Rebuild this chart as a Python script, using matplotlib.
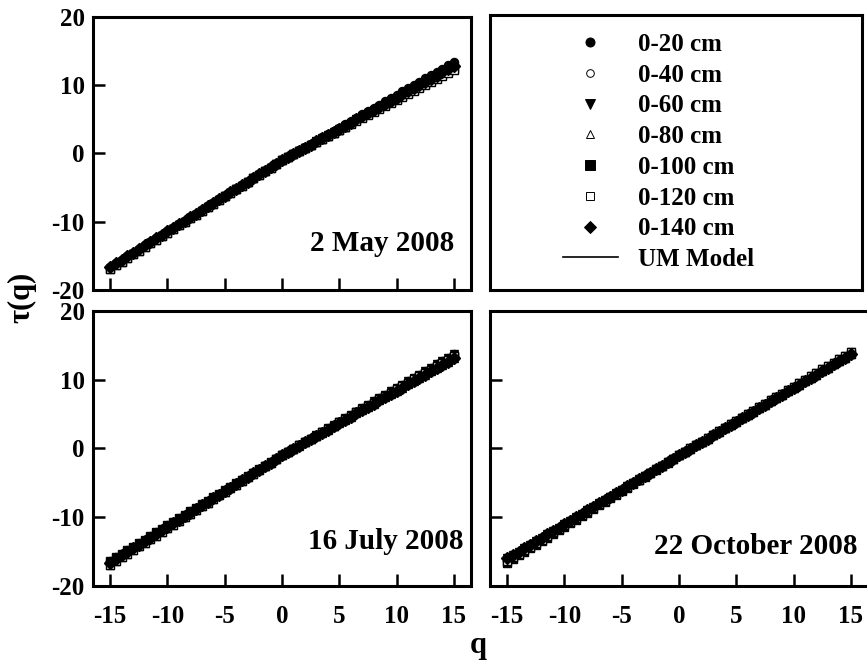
import matplotlib
matplotlib.use("Agg")
import matplotlib.pyplot as plt
from matplotlib.lines import Line2D

plt.rcParams['font.family'] = ['Liberation Serif', 'DejaVu Serif']
plt.rcParams['font.weight'] = 'bold'
plt.rcParams['axes.unicode_minus'] = False

# --- moment orders ---
q = [-15, -14.5, -14, -13.5, -13, -12.5, -12, -11.5, -11, -10.5,
     -10, -9.5, -9, -8.5, -8, -7.5, -7, -6.5, -6, -5.5,
     -5, -4.5, -4, -3.5, -3, -2.5, -2, -1.5, -1, -0.5,
     0, 0.5, 1, 1.5, 2, 2.5, 3, 3.5, 4, 4.5,
     5, 5.5, 6, 6.5, 7, 7.5, 8, 8.5, 9, 9.5,
     10, 10.5, 11, 11.5, 12, 12.5, 13, 13.5, 14, 14.5, 15]

# --- tau(q), 2 May 2008 ---
may_20 = [-16.60, -16.08, -15.56, -15.04, -14.52, -14.00, -13.48, -12.96, -12.44, -11.92, -11.40, -10.88, -10.36, -9.84, -9.32, -8.80, -8.28, -7.76, -7.24, -6.72, -6.20, -5.68, -5.16, -4.64, -4.12, -3.60, -3.08, -2.56, -2.04, -1.52,
          -1.00, -0.52, -0.04, 0.44, 0.92, 1.40, 1.88, 2.36, 2.84, 3.32, 3.80, 4.28, 4.76, 5.24, 5.72, 6.20, 6.68, 7.16, 7.64, 8.12, 8.60, 9.08, 9.56, 10.04, 10.52, 11.00, 11.48, 11.96, 12.44, 12.92, 13.40]
may_40 = [-16.60, -16.08, -15.56, -15.04, -14.52, -14.00, -13.48, -12.96, -12.44, -11.92, -11.40, -10.88, -10.36, -9.84, -9.32, -8.80, -8.28, -7.76, -7.24, -6.72, -6.20, -5.68, -5.16, -4.64, -4.12, -3.60, -3.08, -2.56, -2.04, -1.52,
          -1.00, -0.53, -0.06, 0.41, 0.88, 1.35, 1.82, 2.29, 2.76, 3.23, 3.70, 4.17, 4.64, 5.11, 5.58, 6.05, 6.52, 6.99, 7.46, 7.93, 8.40, 8.87, 9.34, 9.81, 10.28, 10.75, 11.22, 11.69, 12.16, 12.63, 13.10]
may_60 = [-16.90, -16.37, -15.84, -15.31, -14.78, -14.25, -13.72, -13.19, -12.66, -12.13, -11.60, -11.07, -10.54, -10.01, -9.48, -8.95, -8.42, -7.89, -7.36, -6.83, -6.30, -5.77, -5.24, -4.71, -4.18, -3.65, -3.12, -2.59, -2.06, -1.53,
          -1.00, -0.54, -0.08, 0.38, 0.84, 1.30, 1.76, 2.22, 2.68, 3.14, 3.60, 4.06, 4.52, 4.98, 5.44, 5.90, 6.36, 6.82, 7.28, 7.74, 8.20, 8.66, 9.12, 9.58, 10.04, 10.50, 10.96, 11.42, 11.88, 12.34, 12.80]
may_80 = [-16.60, -16.08, -15.56, -15.04, -14.52, -14.00, -13.48, -12.96, -12.44, -11.92, -11.40, -10.88, -10.36, -9.84, -9.32, -8.80, -8.28, -7.76, -7.24, -6.72, -6.20, -5.68, -5.16, -4.64, -4.12, -3.60, -3.08, -2.56, -2.04, -1.52,
          -1.00, -0.55, -0.10, 0.35, 0.80, 1.25, 1.70, 2.15, 2.60, 3.05, 3.50, 3.95, 4.40, 4.85, 5.30, 5.75, 6.20, 6.65, 7.10, 7.55, 8.00, 8.45, 8.90, 9.35, 9.80, 10.25, 10.70, 11.15, 11.60, 12.05, 12.50]
may_100 = [-16.90, -16.37, -15.84, -15.31, -14.78, -14.25, -13.72, -13.19, -12.66, -12.13, -11.60, -11.07, -10.54, -10.01, -9.48, -8.95, -8.42, -7.89, -7.36, -6.83, -6.30, -5.77, -5.24, -4.71, -4.18, -3.65, -3.12, -2.59, -2.06, -1.53,
           -1.00, -0.55, -0.10, 0.35, 0.80, 1.25, 1.70, 2.15, 2.60, 3.05, 3.50, 3.95, 4.40, 4.85, 5.30, 5.75, 6.20, 6.65, 7.10, 7.55, 8.00, 8.45, 8.90, 9.35, 9.80, 10.25, 10.70, 11.15, 11.60, 12.05, 12.50]
may_120 = [-16.90, -16.37, -15.84, -15.31, -14.78, -14.25, -13.72, -13.19, -12.66, -12.13, -11.60, -11.07, -10.54, -10.01, -9.48, -8.95, -8.42, -7.89, -7.36, -6.83, -6.30, -5.77, -5.24, -4.71, -4.18, -3.65, -3.12, -2.59, -2.06, -1.53,
           -1.00, -0.56, -0.12, 0.32, 0.76, 1.20, 1.64, 2.08, 2.52, 2.96, 3.40, 3.84, 4.28, 4.72, 5.16, 5.60, 6.04, 6.48, 6.92, 7.36, 7.80, 8.24, 8.68, 9.12, 9.56, 10.00, 10.44, 10.88, 11.32, 11.76, 12.20]
may_140 = [-16.60, -16.08, -15.56, -15.04, -14.52, -14.00, -13.48, -12.96, -12.44, -11.92, -11.40, -10.88, -10.36, -9.84, -9.32, -8.80, -8.28, -7.76, -7.24, -6.72, -6.20, -5.68, -5.16, -4.64, -4.12, -3.60, -3.08, -2.56, -2.04, -1.52,
           -1.00, -0.54, -0.08, 0.38, 0.84, 1.30, 1.76, 2.22, 2.68, 3.14, 3.60, 4.06, 4.52, 4.98, 5.44, 5.90, 6.36, 6.82, 7.28, 7.74, 8.20, 8.66, 9.12, 9.58, 10.04, 10.50, 10.96, 11.42, 11.88, 12.34, 12.80]

# --- tau(q), 16 July 2008 ---
jul_20 = [-16.30, -15.79, -15.28, -14.77, -14.26, -13.75, -13.24, -12.73, -12.22, -11.71, -11.20, -10.69, -10.18, -9.67, -9.16, -8.65, -8.14, -7.63, -7.12, -6.61, -6.10, -5.59, -5.08, -4.57, -4.06, -3.55, -3.04, -2.53, -2.02, -1.51,
          -1.00, -0.51, -0.02, 0.47, 0.96, 1.45, 1.94, 2.43, 2.92, 3.41, 3.90, 4.39, 4.88, 5.37, 5.86, 6.35, 6.84, 7.33, 7.82, 8.31, 8.80, 9.29, 9.78, 10.27, 10.76, 11.25, 11.74, 12.23, 12.72, 13.21, 13.70]
jul_40 = [-16.60, -16.08, -15.56, -15.04, -14.52, -14.00, -13.48, -12.96, -12.44, -11.92, -11.40, -10.88, -10.36, -9.84, -9.32, -8.80, -8.28, -7.76, -7.24, -6.72, -6.20, -5.68, -5.16, -4.64, -4.12, -3.60, -3.08, -2.56, -2.04, -1.52,
          -1.00, -0.52, -0.04, 0.44, 0.92, 1.40, 1.88, 2.36, 2.84, 3.32, 3.80, 4.28, 4.76, 5.24, 5.72, 6.20, 6.68, 7.16, 7.64, 8.12, 8.60, 9.08, 9.56, 10.04, 10.52, 11.00, 11.48, 11.96, 12.44, 12.92, 13.40]
jul_60 = [-16.60, -16.08, -15.56, -15.04, -14.52, -14.00, -13.48, -12.96, -12.44, -11.92, -11.40, -10.88, -10.36, -9.84, -9.32, -8.80, -8.28, -7.76, -7.24, -6.72, -6.20, -5.68, -5.16, -4.64, -4.12, -3.60, -3.08, -2.56, -2.04, -1.52,
          -1.00, -0.51, -0.02, 0.47, 0.96, 1.45, 1.94, 2.43, 2.92, 3.41, 3.90, 4.39, 4.88, 5.37, 5.86, 6.35, 6.84, 7.33, 7.82, 8.31, 8.80, 9.29, 9.78, 10.27, 10.76, 11.25, 11.74, 12.23, 12.72, 13.21, 13.70]
jul_80 = [-16.90, -16.37, -15.84, -15.31, -14.78, -14.25, -13.72, -13.19, -12.66, -12.13, -11.60, -11.07, -10.54, -10.01, -9.48, -8.95, -8.42, -7.89, -7.36, -6.83, -6.30, -5.77, -5.24, -4.71, -4.18, -3.65, -3.12, -2.59, -2.06, -1.53,
          -1.00, -0.53, -0.06, 0.41, 0.88, 1.35, 1.82, 2.29, 2.76, 3.23, 3.70, 4.17, 4.64, 5.11, 5.58, 6.05, 6.52, 6.99, 7.46, 7.93, 8.40, 8.87, 9.34, 9.81, 10.28, 10.75, 11.22, 11.69, 12.16, 12.63, 13.10]
jul_100 = [-16.30, -15.79, -15.28, -14.77, -14.26, -13.75, -13.24, -12.73, -12.22, -11.71, -11.20, -10.69, -10.18, -9.67, -9.16, -8.65, -8.14, -7.63, -7.12, -6.61, -6.10, -5.59, -5.08, -4.57, -4.06, -3.55, -3.04, -2.53, -2.02, -1.51,
           -1.00, -0.52, -0.04, 0.44, 0.92, 1.40, 1.88, 2.36, 2.84, 3.32, 3.80, 4.28, 4.76, 5.24, 5.72, 6.20, 6.68, 7.16, 7.64, 8.12, 8.60, 9.08, 9.56, 10.04, 10.52, 11.00, 11.48, 11.96, 12.44, 12.92, 13.40]
jul_120 = [-16.90, -16.37, -15.84, -15.31, -14.78, -14.25, -13.72, -13.19, -12.66, -12.13, -11.60, -11.07, -10.54, -10.01, -9.48, -8.95, -8.42, -7.89, -7.36, -6.83, -6.30, -5.77, -5.24, -4.71, -4.18, -3.65, -3.12, -2.59, -2.06, -1.53,
           -1.00, -0.52, -0.04, 0.44, 0.92, 1.40, 1.88, 2.36, 2.84, 3.32, 3.80, 4.28, 4.76, 5.24, 5.72, 6.20, 6.68, 7.16, 7.64, 8.12, 8.60, 9.08, 9.56, 10.04, 10.52, 11.00, 11.48, 11.96, 12.44, 12.92, 13.40]
jul_140 = [-16.60, -16.08, -15.56, -15.04, -14.52, -14.00, -13.48, -12.96, -12.44, -11.92, -11.40, -10.88, -10.36, -9.84, -9.32, -8.80, -8.28, -7.76, -7.24, -6.72, -6.20, -5.68, -5.16, -4.64, -4.12, -3.60, -3.08, -2.56, -2.04, -1.52,
           -1.00, -0.53, -0.06, 0.41, 0.88, 1.35, 1.82, 2.29, 2.76, 3.23, 3.70, 4.17, 4.64, 5.11, 5.58, 6.05, 6.52, 6.99, 7.46, 7.93, 8.40, 8.87, 9.34, 9.81, 10.28, 10.75, 11.22, 11.69, 12.16, 12.63, 13.10]

# --- tau(q), 22 October 2008 ---
oct_20 = [-16.00, -15.50, -15.00, -14.50, -14.00, -13.50, -13.00, -12.50, -12.00, -11.50, -11.00, -10.50, -10.00, -9.50, -9.00, -8.50, -8.00, -7.50, -7.00, -6.50, -6.00, -5.50, -5.00, -4.50, -4.00, -3.50, -3.00, -2.50, -2.00, -1.50,
          -1.00, -0.51, -0.02, 0.47, 0.96, 1.45, 1.94, 2.43, 2.92, 3.41, 3.90, 4.39, 4.88, 5.37, 5.86, 6.35, 6.84, 7.33, 7.82, 8.31, 8.80, 9.29, 9.78, 10.27, 10.76, 11.25, 11.74, 12.23, 12.72, 13.21, 13.70]
oct_40 = [-16.30, -15.79, -15.28, -14.77, -14.26, -13.75, -13.24, -12.73, -12.22, -11.71, -11.20, -10.69, -10.18, -9.67, -9.16, -8.65, -8.14, -7.63, -7.12, -6.61, -6.10, -5.59, -5.08, -4.57, -4.06, -3.55, -3.04, -2.53, -2.02, -1.51,
          -1.00, -0.51, -0.02, 0.47, 0.96, 1.45, 1.94, 2.43, 2.92, 3.41, 3.90, 4.39, 4.88, 5.37, 5.86, 6.35, 6.84, 7.33, 7.82, 8.31, 8.80, 9.29, 9.78, 10.27, 10.76, 11.25, 11.74, 12.23, 12.72, 13.21, 13.70]
oct_60 = [-16.00, -15.50, -15.00, -14.50, -14.00, -13.50, -13.00, -12.50, -12.00, -11.50, -11.00, -10.50, -10.00, -9.50, -9.00, -8.50, -8.00, -7.50, -7.00, -6.50, -6.00, -5.50, -5.00, -4.50, -4.00, -3.50, -3.00, -2.50, -2.00, -1.50,
          -1.00, -0.50, 0.00, 0.50, 1.00, 1.50, 2.00, 2.50, 3.00, 3.50, 4.00, 4.50, 5.00, 5.50, 6.00, 6.50, 7.00, 7.50, 8.00, 8.50, 9.00, 9.50, 10.00, 10.50, 11.00, 11.50, 12.00, 12.50, 13.00, 13.50, 14.00]
oct_80 = [-16.30, -15.79, -15.28, -14.77, -14.26, -13.75, -13.24, -12.73, -12.22, -11.71, -11.20, -10.69, -10.18, -9.67, -9.16, -8.65, -8.14, -7.63, -7.12, -6.61, -6.10, -5.59, -5.08, -4.57, -4.06, -3.55, -3.04, -2.53, -2.02, -1.51,
          -1.00, -0.51, -0.02, 0.47, 0.96, 1.45, 1.94, 2.43, 2.92, 3.41, 3.90, 4.39, 4.88, 5.37, 5.86, 6.35, 6.84, 7.33, 7.82, 8.31, 8.80, 9.29, 9.78, 10.27, 10.76, 11.25, 11.74, 12.23, 12.72, 13.21, 13.70]
oct_100 = [-16.60, -16.08, -15.56, -15.04, -14.52, -14.00, -13.48, -12.96, -12.44, -11.92, -11.40, -10.88, -10.36, -9.84, -9.32, -8.80, -8.28, -7.76, -7.24, -6.72, -6.20, -5.68, -5.16, -4.64, -4.12, -3.60, -3.08, -2.56, -2.04, -1.52,
           -1.00, -0.51, -0.02, 0.47, 0.96, 1.45, 1.94, 2.43, 2.92, 3.41, 3.90, 4.39, 4.88, 5.37, 5.86, 6.35, 6.84, 7.33, 7.82, 8.31, 8.80, 9.29, 9.78, 10.27, 10.76, 11.25, 11.74, 12.23, 12.72, 13.21, 13.70]
oct_120 = [-16.30, -15.79, -15.28, -14.77, -14.26, -13.75, -13.24, -12.73, -12.22, -11.71, -11.20, -10.69, -10.18, -9.67, -9.16, -8.65, -8.14, -7.63, -7.12, -6.61, -6.10, -5.59, -5.08, -4.57, -4.06, -3.55, -3.04, -2.53, -2.02, -1.51,
           -1.00, -0.50, 0.00, 0.50, 1.00, 1.50, 2.00, 2.50, 3.00, 3.50, 4.00, 4.50, 5.00, 5.50, 6.00, 6.50, 7.00, 7.50, 8.00, 8.50, 9.00, 9.50, 10.00, 10.50, 11.00, 11.50, 12.00, 12.50, 13.00, 13.50, 14.00]
oct_140 = [-16.00, -15.50, -15.00, -14.50, -14.00, -13.50, -13.00, -12.50, -12.00, -11.50, -11.00, -10.50, -10.00, -9.50, -9.00, -8.50, -8.00, -7.50, -7.00, -6.50, -6.00, -5.50, -5.00, -4.50, -4.00, -3.50, -3.00, -2.50, -2.00, -1.50,
           -1.00, -0.51, -0.02, 0.47, 0.96, 1.45, 1.94, 2.43, 2.92, 3.41, 3.90, 4.39, 4.88, 5.37, 5.86, 6.35, 6.84, 7.33, 7.82, 8.31, 8.80, 9.29, 9.78, 10.27, 10.76, 11.25, 11.74, 12.23, 12.72, 13.21, 13.70]

# --- UM model fits ---
q_model = [-15, -10, -5, 0, 5, 10, 15]
um_may = [-16.7, -11.5, -6.3, -1.0, 3.6, 8.2, 12.8]
um_jul = [-16.6, -11.4, -6.2, -1.0, 3.8, 8.6, 13.4]
um_oct = [-16.3, -11.2, -6.1, -1.0, 3.9, 8.8, 13.7]

depths = ["0-20 cm", "0-40 cm", "0-60 cm", "0-80 cm", "0-100 cm", "0-120 cm", "0-140 cm"]
markers = ['o', 'o', 'v', '^', 's', 's', 'D']
filled = [True, False, True, False, True, False, True]

x_ticks = [-15, -10, -5, 0, 5, 10, 15]
y_ticks = [-20, -10, 0, 10, 20]


def style_frame(ax):
    for s in ax.spines.values():
        s.set_linewidth(2.2)


def draw_panel(ax, series, um, date, date_xy, show_x, show_y):
    ax.plot(q_model, um, color='black', lw=1.2, zorder=1)
    for vals, m, f in zip(series, markers, filled):
        ax.plot(q, vals, ls='none', marker=m, ms=5.8,
                mfc='black' if f else 'white', mec='black', mew=1.0, zorder=2)
    ax.set_xlim(-16.5, 16.5)
    ax.set_ylim(-20, 20)
    ax.set_xticks(x_ticks)
    ax.set_yticks(y_ticks)
    ax.tick_params(direction='in', length=8.5, width=1.8, labelsize=18)
    ax.tick_params(axis='x', pad=14)
    ax.tick_params(axis='y', pad=6)
    ax.tick_params(labelbottom=show_x, labelleft=show_y)
    style_frame(ax)
    ax.text(date_xy[0], date_xy[1], date, transform=ax.transAxes,
            ha='right', va='center', fontsize=21, fontweight='bold')


fig = plt.figure(figsize=(8.67, 6.68), dpi=100)
ax_may = fig.add_axes([0.1073, 0.5659, 0.436, 0.4087])
ax_leg = fig.add_axes([0.5652, 0.5659, 0.4290, 0.4116])
ax_jul = fig.add_axes([0.1073, 0.1228, 0.436, 0.4116])
ax_oct = fig.add_axes([0.5652, 0.1228, 0.436, 0.4116])

draw_panel(ax_may, [may_20, may_40, may_60, may_80, may_100, may_120, may_140],
           um_may, "2 May 2008", (0.955, 0.17), False, True)
draw_panel(ax_jul, [jul_20, jul_40, jul_60, jul_80, jul_100, jul_120, jul_140],
           um_jul, "16 July 2008", (0.979, 0.16), True, True)
draw_panel(ax_oct, [oct_20, oct_40, oct_60, oct_80, oct_100, oct_120, oct_140],
           um_oct, "22 October 2008", (0.973, 0.145), True, False)

# legend panel
ax_leg.set_xticks([])
ax_leg.set_yticks([])
style_frame(ax_leg)
handles = []
for m, f in zip(markers, filled):
    handles.append(Line2D([], [], ls='none', marker=m, ms=6.5 if f else 5.5,
                          mfc='black' if f else 'white', mec='black', mew=0.7))
handles.append(Line2D([], [], color='black', lw=1.2))
ax_leg.legend(handles, depths + ["UM Model"], loc='upper left',
              bbox_to_anchor=(0.196, 0.935), frameon=False, fontsize=18,
              handlelength=2.2, handletextpad=0.8, labelspacing=0.31,
              borderpad=0, borderaxespad=0)

fig.text(0.025, 0.555, "τ(q)", rotation=90, ha='center', va='center',
         fontsize=22, fontweight='bold')
fig.text(0.551, 0.034, "q", ha='center', va='center', fontsize=22, fontweight='bold')

fig.savefig("out.png", dpi=100)
